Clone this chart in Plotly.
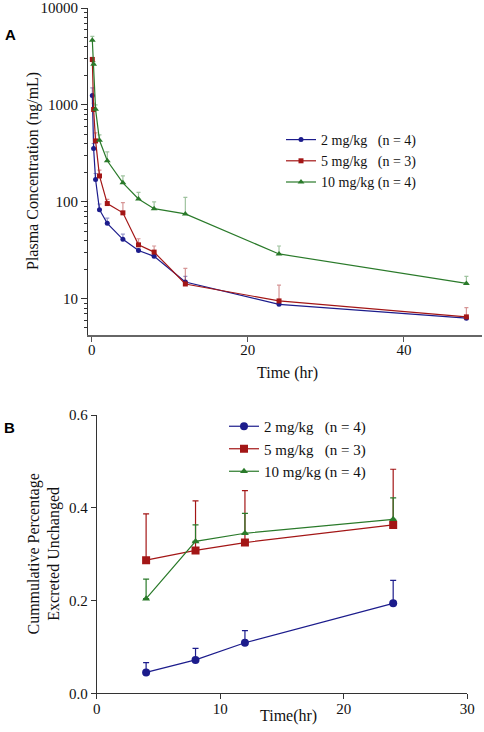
import plotly.graph_objects as go

# ---------------- Panel A data ----------------
time_a = [0.083, 0.25, 0.5, 1, 2, 4, 6, 8, 12, 24, 48]
conc_2 = [1250, 355, 170, 83, 60, 41, 31.5, 27.4, 14.9, 8.75, 6.3]
conc_2_upper = [1500, 400, 196, 95, 68, 46.5, 33, 28.5, 17, 9.2, 6.6]
conc_5 = [2940, 898, 425, 185, 96, 77, 36, 30.3, 14.2, 9.5, 6.5]
conc_5_upper = [3100, 1040, 514, 212, 106, 98, 41.6, 35, 20.6, 13.8, 8.1]
conc_10 = [4640, 2630, 900, 432, 265, 157, 107, 85, 75, 29, 14.4]
conc_10_upper = [5100, 2800, 1000, 490, 327, 185, 125, 100, 111, 35, 17]

# ---------------- Panel B data ----------------
time_b = [4, 8, 12, 24]
pct_2 = [0.045, 0.072, 0.109, 0.194]
pct_2_upper = [0.066, 0.097, 0.135, 0.2435]
pct_5 = [0.287, 0.308, 0.325, 0.363]
pct_5_upper = [0.387, 0.415, 0.437, 0.483]
pct_10 = [0.204, 0.3275, 0.345, 0.375]
pct_10_upper = [0.246, 0.363, 0.388, 0.4215]

labels = ["2 mg/kg\u00a0\u00a0\u00a0(n = 4)", "5 mg/kg\u00a0\u00a0\u00a0(n = 3)", "10 mg/kg (n = 4)"]
colors = ["#1c1c8c", "#a31616", "#2a7a2a"]
err_colors_a = ["rgba(28,28,140,0.45)", "rgba(163,22,22,0.45)", "rgba(42,122,42,0.45)"]
symbols = ["circle", "square", "triangle-up"]

SERIF = "Liberation Serif"

fig = go.Figure()

series_a = [(conc_2, conc_2_upper), (conc_5, conc_5_upper), (conc_10, conc_10_upper)]
for i, (vals, ups) in enumerate(series_a):
    fig.add_trace(go.Scatter(
        x=time_a, y=vals, mode="lines+markers", name=labels[i],
        line=dict(color=colors[i], width=1.2),
        marker=dict(symbol=symbols[i], size=5 if i < 2 else 6, color=colors[i]),
        error_y=dict(type="data", symmetric=False,
                     array=[u - v for u, v in zip(ups, vals)],
                     arrayminus=[0] * len(vals),
                     color=err_colors_a[i], thickness=1.2, width=2),
        xaxis="x", yaxis="y", legend="legend",
    ))

series_b = [(pct_2, pct_2_upper), (pct_5, pct_5_upper), (pct_10, pct_10_upper)]
for i, (vals, ups) in enumerate(series_b):
    fig.add_trace(go.Scatter(
        x=time_b, y=vals, mode="lines+markers", name=labels[i],
        line=dict(color=colors[i], width=1.2),
        marker=dict(symbol=symbols[i], size=8 if i < 2 else 7, color=colors[i]),
        error_y=dict(type="data", symmetric=False,
                     array=[u - v for u, v in zip(ups, vals)],
                     arrayminus=[0] * len(vals),
                     color=colors[i], thickness=1.2, width=3),
        xaxis="x2", yaxis="y2", legend="legend2",
    ))

minor_vals = [m * 10 ** e for e in range(0, 4) for m in range(2, 10)]
minor_vals = [v for v in minor_vals if v >= 5]

tickfont = dict(family=SERIF, size=15, color="#111")
titlefont = dict(family=SERIF, size=16, color="#111")

fig.update_layout(
    width=484, height=732,
    margin=dict(l=0, r=0, t=0, b=0, pad=0, autoexpand=False),
    paper_bgcolor="white", plot_bgcolor="white",
    showlegend=True,
    xaxis=dict(domain=[88 / 484, 482 / 484], range=[-0.47, 50.0],
               tickvals=[0, 20, 40], ticks="outside", ticklen=5,
               tickcolor="#555", showline=True, linecolor="#666", linewidth=2,
               showgrid=False, zeroline=False, tickfont=tickfont,
               ticklabelstandoff=-5, anchor="y", automargin=False),
    yaxis=dict(domain=[1 - 335 / 732, 1 - 8 / 732], type="log", range=[0.626, 4],
               tickvals=[10, 100, 1000, 10000], ticktext=["10", "100", "1000", "10000"],
               ticks="outside", ticklen=6, tickcolor="#333",
               minor=dict(tickvals=minor_vals, ticks="outside", ticklen=3, tickcolor="#333"),
               showline=True, linecolor="#333", linewidth=1,
               showgrid=False, zeroline=False, tickfont=tickfont, anchor="x",
               automargin=False),
    xaxis2=dict(domain=[96.7 / 484, 467.3 / 484], range=[0, 30],
                tickvals=[0, 10, 20, 30], ticks="outside", ticklen=5, tickcolor="#333",
                showline=True, linecolor="#333", linewidth=1,
                showgrid=False, zeroline=False, tickfont=tickfont,
                ticklabelstandoff=-3, anchor="y2", automargin=False),
    yaxis2=dict(domain=[1 - 693.3 / 732, 1 - 415 / 732], range=[0, 0.6],
                tickvals=[0, 0.2, 0.4, 0.6], tickformat=".1f",
                ticks="outside", ticklen=5, tickcolor="#333",
                showline=True, linecolor="#333", linewidth=1,
                showgrid=False, zeroline=False, tickfont=tickfont, anchor="x2",
                automargin=False),
    legend=dict(x=281 / 484, y=1 - 124 / 732, xanchor="left", yanchor="top",
                bgcolor="rgba(0,0,0,0)", font=dict(family=SERIF, size=14, color="#111"),
                tracegroupgap=0),
    legend2=dict(x=224 / 484, y=1 - 410 / 732, xanchor="left", yanchor="top",
                 bgcolor="rgba(0,0,0,0)", font=dict(family=SERIF, size=15, color="#111"),
                 tracegroupgap=0),
    annotations=[
        dict(text="<b>A</b>", x=3 / 484, y=1 - 34 / 732, xref="paper", yref="paper",
             xanchor="left", yanchor="middle", showarrow=False,
             font=dict(family="Liberation Sans", size=15, color="#000")),
        dict(text="<b>B</b>", x=2 / 484, y=1 - 427 / 732, xref="paper", yref="paper",
             xanchor="left", yanchor="middle", showarrow=False,
             font=dict(family="Liberation Sans", size=15, color="#000")),
        dict(text="Time (hr)", x=287 / 484, y=1 - 373 / 732, xref="paper", yref="paper",
             xanchor="center", yanchor="middle", showarrow=False, font=titlefont),
        dict(text="Plasma Concentration (ng/mL)", x=33 / 484, y=1 - 171 / 732,
             xref="paper", yref="paper", xanchor="center", yanchor="middle",
             textangle=-90, showarrow=False, font=titlefont),
        dict(text="Time(hr)", x=288 / 484, y=1 - 716 / 732, xref="paper", yref="paper",
             xanchor="center", yanchor="middle", showarrow=False, font=titlefont),
        dict(text="Cummulative Percentage<br>Excreted Unchanged", x=43.5 / 484, y=1 - 554 / 732,
             xref="paper", yref="paper", xanchor="center", yanchor="middle",
             textangle=-90, showarrow=False, font=titlefont),
    ],
)

fig.write_html("out.html",
               config={"displayModeBar": False},
               post_script="document.body.style.margin='0px';document.body.style.overflow='hidden';")
